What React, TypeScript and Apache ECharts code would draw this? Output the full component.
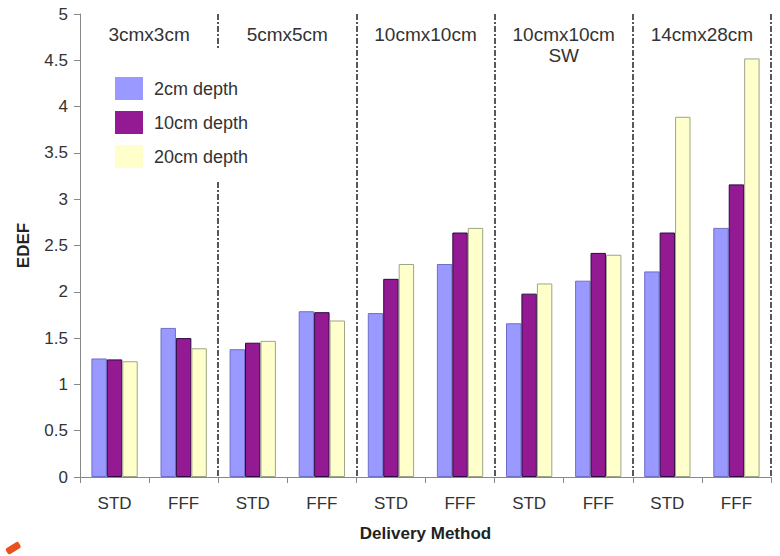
import React, { useEffect, useRef } from "react";
import * as echarts from "echarts";

const categories = ["STD", "FFF", "STD", "FFF", "STD", "FFF", "STD", "FFF", "STD", "FFF"];
const groupLabels = ["3cmx3cm", "5cmx5cm", "10cmx10cm", "10cmx10cm\nSW", "14cmx28cm"];
const depth2 = [1.28, 1.61, 1.38, 1.79, 1.77, 2.3, 1.66, 2.12, 2.22, 2.69];
const depth10 = [1.27, 1.5, 1.45, 1.78, 2.14, 2.64, 1.98, 2.42, 2.64, 3.16];
const depth20 = [1.25, 1.39, 1.47, 1.69, 2.3, 2.69, 2.09, 2.4, 3.89, 4.52];
const seriesNames = ["2cm depth", "10cm depth", "20cm depth"];
const separatorAfter = [2, 4, 6, 8];

const FONT = "'Liberation Sans', Arial, sans-serif";

export default function App() {
  const ref = useRef<HTMLDivElement>(null);
  useEffect(() => {
    document.body.style.margin = "0";
    if (!ref.current) return;
    const chart = echarts.init(ref.current, null, { renderer: "svg" });
    const barStyle = (color: string, border: string) => ({
      color,
      borderColor: border,
      borderWidth: 1,
    });
    chart.setOption({
      animation: false,
      backgroundColor: "#fff",
      textStyle: { fontFamily: FONT },
      grid: { left: 80, right: 9, top: 14, bottom: 79, containLabel: false },
      legend: {
        orient: "vertical",
        left: 90,
        top: 50,
        padding: [27, 12, 14, 25],
        backgroundColor: "#ffffff",
        itemWidth: 28,
        itemHeight: 23,
        itemGap: 11,
        icon: "rect",
        itemStyle: { borderWidth: 0 },
        textStyle: { fontSize: 18, color: "#333", fontFamily: FONT, padding: [0, 0, 0, 6] },
        data: seriesNames,
      },
      xAxis: [
        {
          type: "category",
          data: categories,
          boundaryGap: true,
          axisLine: { lineStyle: { color: "#888", width: 1 } },
          axisTick: { show: true, length: 6, lineStyle: { color: "#888" } },
          axisLabel: { fontSize: 17, color: "#333", margin: 18, fontFamily: FONT },
          splitLine: {
            show: true,
            interval: (index: number) => separatorAfter.includes(index),
            lineStyle: { color: "#222", width: 1.5, type: [6, 2, 2, 2] },
          },
          name: "Delivery Method",
          nameLocation: "middle",
          nameGap: 48,
          nameTextStyle: { fontSize: 17, fontWeight: "bold", color: "#222", fontFamily: FONT },
        },
        {
          type: "category",
          data: groupLabels,
          position: "top",
          axisLine: { show: false },
          axisTick: { show: false },
          splitLine: { show: false },
          axisLabel: {
            inside: true,
            margin: 10,
            fontSize: 19,
            color: "#333",
            lineHeight: 21,
            fontFamily: FONT,
          },
        },
      ],
      yAxis: {
        type: "value",
        min: 0,
        max: 5,
        interval: 0.5,
        axisLine: { show: true, lineStyle: { color: "#888", width: 1 } },
        axisTick: { show: true, length: 6, lineStyle: { color: "#888" } },
        axisLabel: { fontSize: 17, color: "#333", margin: 12, fontFamily: FONT },
        splitLine: { show: false },
        name: "EDEF",
        nameLocation: "middle",
        nameGap: 48,
        nameTextStyle: { fontSize: 17, fontWeight: "bold", color: "#222", fontFamily: FONT },
      },
      series: [
        {
          name: seriesNames[0],
          type: "bar",
          data: depth2,
          barGap: "0%",
          barCategoryGap: "33%",
          itemStyle: barStyle("#9999ff", "#6e6ec8"),
        },
        {
          name: seriesNames[1],
          type: "bar",
          data: depth10,
          barGap: "0%",
          barCategoryGap: "33%",
          itemStyle: barStyle("#931a93", "#2a0a40"),
        },
        {
          name: seriesNames[2],
          type: "bar",
          data: depth20,
          barGap: "0%",
          barCategoryGap: "33%",
          itemStyle: barStyle("#ffffcc", "#9ea486"),
        },
      ],
      graphic: [
        {
          type: "rect",
          x: 5,
          y: 549,
          rotation: 0.55,
          shape: { x: 0, y: 0, width: 15, height: 7, r: 2 },
          style: { fill: "#e8521c" },
        },
      ],
    });
    return () => chart.dispose();
  }, []);
  return <div ref={ref} style={{ width: 780, height: 556 }} />;
}
